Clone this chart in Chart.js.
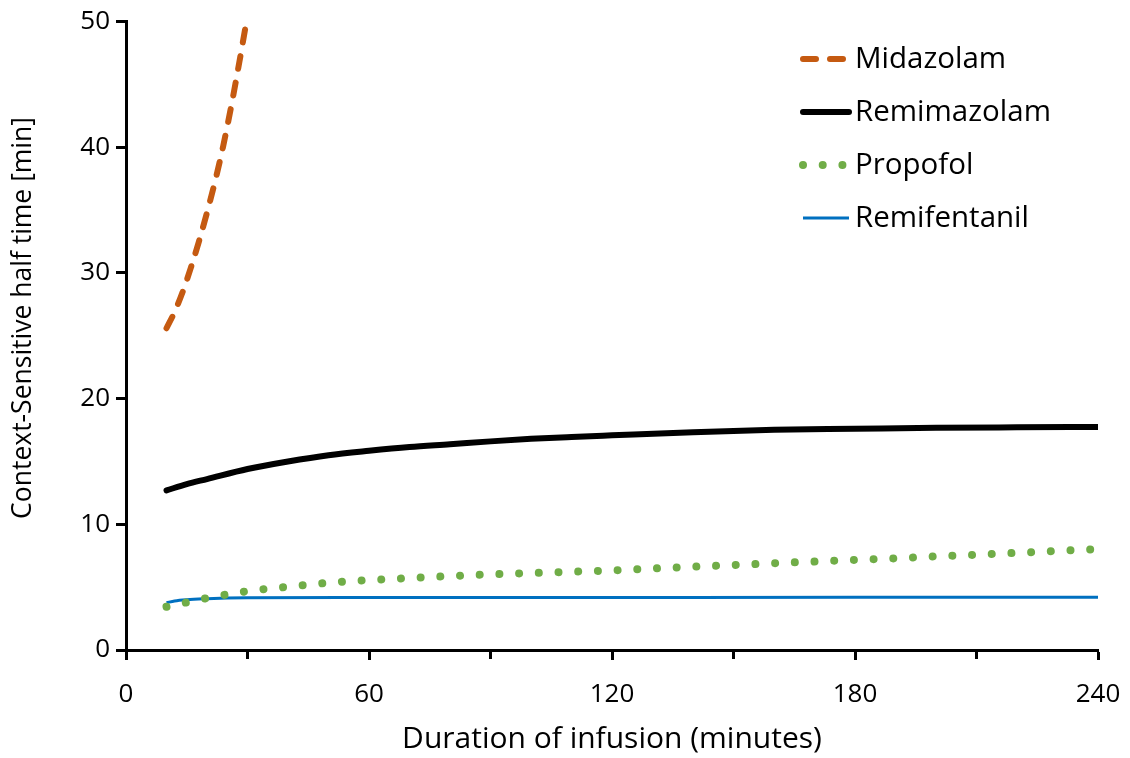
<!DOCTYPE html>
<html>
<head>
<meta charset="utf-8">
<script src="https://cdn.jsdelivr.net/npm/chart.js@4.4.1/dist/chart.umd.min.js"></script>
<style>
  html, body { margin: 0; padding: 0; background: #fff; }
  #wrap { width: 1130px; height: 758px; }
</style>
</head>
<body>
<div id="wrap"><canvas id="csht" width="1130" height="758"></canvas></div>
<script>
// Data (minutes, half time in minutes)
const midazolamMin = [10, 12, 14, 16, 18, 20, 22, 24, 26, 28, 30];
const midazolamVal = [25.6, 26.9, 28.5, 30.4, 32.5, 34.8, 37.3, 40.1, 43.3, 46.8, 50.5];

const remimazolamMin = [10, 15, 20, 30, 40, 50, 60, 70, 80, 90, 100, 110, 120, 140, 160, 180, 200, 220, 240];
const remimazolamVal = [12.7, 13.2, 13.6, 14.4, 15.0, 15.5, 15.85, 16.15, 16.37, 16.6, 16.8, 16.95, 17.08, 17.33, 17.52, 17.6, 17.68, 17.72, 17.75];

const propofolMin = [10, 20, 30, 40, 50, 60, 70, 80, 90, 100, 110, 120, 130, 140, 150, 160, 170, 180, 190, 200, 210, 220, 230, 240];
const propofolVal = [3.44, 4.13, 4.68, 5.03, 5.35, 5.56, 5.72, 5.88, 6.02, 6.12, 6.23, 6.33, 6.48, 6.63, 6.76, 6.9, 7.04, 7.17, 7.29, 7.45, 7.58, 7.73, 7.88, 8.03];

const remifentanilMin = [10, 12, 15, 20, 25, 30, 60, 120, 180, 240];
const remifentanilVal = [3.76, 3.9, 4.0, 4.08, 4.13, 4.15, 4.17, 4.18, 4.19, 4.19];

const xTicks = [0, 60, 120, 180, 240];
const xMinorTicks = [30, 90, 150, 210];
const yTicks = [0, 10, 20, 30, 40, 50];

const yTitle = 'Context-Sensitive half time [min]';
const xTitle = 'Duration of infusion (minutes)';

const FONT = '"Open Sans", "Noto Sans", sans-serif';

function pts(xs, ys) {
    return xs.map((x, i) => ({ x: x, y: ys[i] }));
}

// legend drawn inside the plot, top right
const legendPlugin = {
    id: 'insideLegend',
    afterDraw(chart) {
        const ctx = chart.ctx;
        const x0 = 803, x1 = 849, tx = 855;
        chart.data.datasets.forEach((ds, i) => {
            const y = 59 + i * 53;
            ctx.save();
            ctx.strokeStyle = ds.borderColor;
            ctx.lineWidth = ds.borderWidth;
            ctx.lineCap = ds.borderCapStyle || 'butt';
            ctx.setLineDash(ds.borderDash || []);
            ctx.beginPath();
            ctx.moveTo(x0, y);
            ctx.lineTo(x1, y);
            ctx.stroke();
            ctx.restore();
            ctx.save();
            ctx.fillStyle = '#000';
            ctx.font = '29.5px ' + FONT;
            ctx.textBaseline = 'middle';
            ctx.fillText(ds.label, tx, y + 1);
            ctx.restore();
        });
    }
};

// y-axis title, a little above the axis centre as in the figure
const yTitlePlugin = {
    id: 'yTitle',
    afterDraw(chart) {
        const ctx = chart.ctx;
        ctx.save();
        ctx.translate(23, 318);
        ctx.rotate(-Math.PI / 2);
        ctx.fillStyle = '#000';
        ctx.font = '26.5px ' + FONT;
        ctx.textAlign = 'center';
        ctx.textBaseline = 'middle';
        ctx.fillText(yTitle, 0, 0);
        ctx.restore();
    }
};

const chart = new Chart(document.getElementById('csht'), {
    type: 'line',
    data: {
        datasets: [
            {
                label: 'Midazolam',
                data: pts(midazolamMin, midazolamVal),
                borderColor: '#C55A11',
                borderWidth: 6,
                borderDash: [13, 14],
                borderCapStyle: 'round',
                pointRadius: 0,
                cubicInterpolationMode: 'monotone'
            },
            {
                label: 'Remimazolam',
                data: pts(remimazolamMin, remimazolamVal),
                borderColor: '#000000',
                borderWidth: 6,
                borderCapStyle: 'round',
                pointRadius: 0,
                cubicInterpolationMode: 'monotone'
            },
            {
                label: 'Propofol',
                data: pts(propofolMin, propofolVal),
                borderColor: '#70AD47',
                borderWidth: 8,
                borderDash: [0.01, 19.7],
                borderCapStyle: 'round',
                pointRadius: 0,
                cubicInterpolationMode: 'monotone'
            },
            {
                label: 'Remifentanil',
                data: pts(remifentanilMin, remifentanilVal),
                borderColor: '#0070C0',
                borderWidth: 3,
                pointRadius: 0,
                cubicInterpolationMode: 'monotone'
            }
        ]
    },
    options: {
        responsive: false,
        animation: false,
        clip: 0,
        layout: { padding: { top: 21, right: 32, left: 0, bottom: 0 } },
        plugins: {
            legend: { display: false },
            tooltip: { enabled: false }
        },
        scales: {
            x: {
                type: 'linear',
                min: 0,
                max: 240,
                afterFit: (s) => {
                    s.height = 108;
                    // keep the plot right edge where the figure has it
                    s.paddingRight = 20;
                    s.paddingLeft = 0;
                },
                afterBuildTicks: (s) => {
                    s.ticks = xTicks.concat(xMinorTicks).sort((a, b) => a - b).map(v => ({ value: v }));
                },
                border: { color: '#000', width: 3 },
                grid: {
                    drawOnChartArea: false,
                    tickLength: 10,
                    tickWidth: 3,
                    tickColor: '#000',
                    tickBorderDash: (c) => (c.tick && xMinorTicks.includes(c.tick.value)) ? [7, 20] : []
                },
                ticks: {
                    color: '#000',
                    font: { family: FONT, size: 26 },
                    padding: 19,
                    maxRotation: 0,
                    autoSkip: false,
                    callback: (v) => xTicks.includes(v) ? String(v) : ''
                },
                title: {
                    display: true,
                    text: xTitle,
                    color: '#000',
                    font: { family: FONT, size: 30 },
                    padding: { top: 0, bottom: 1 }
                }
            },
            y: {
                min: 0,
                max: 50,
                afterFit: (s) => { s.width = 126; },
                afterBuildTicks: (s) => {
                    s.ticks = yTicks.map(v => ({ value: v }));
                },
                border: { color: '#000', width: 3 },
                grid: {
                    drawOnChartArea: false,
                    tickLength: 10,
                    tickWidth: 3,
                    tickColor: '#000'
                },
                ticks: {
                    color: '#000',
                    font: { family: FONT, size: 26 },
                    padding: 6
                }
            }
        }
    },
    plugins: [legendPlugin, yTitlePlugin]
});
</script>
</body>
</html>
